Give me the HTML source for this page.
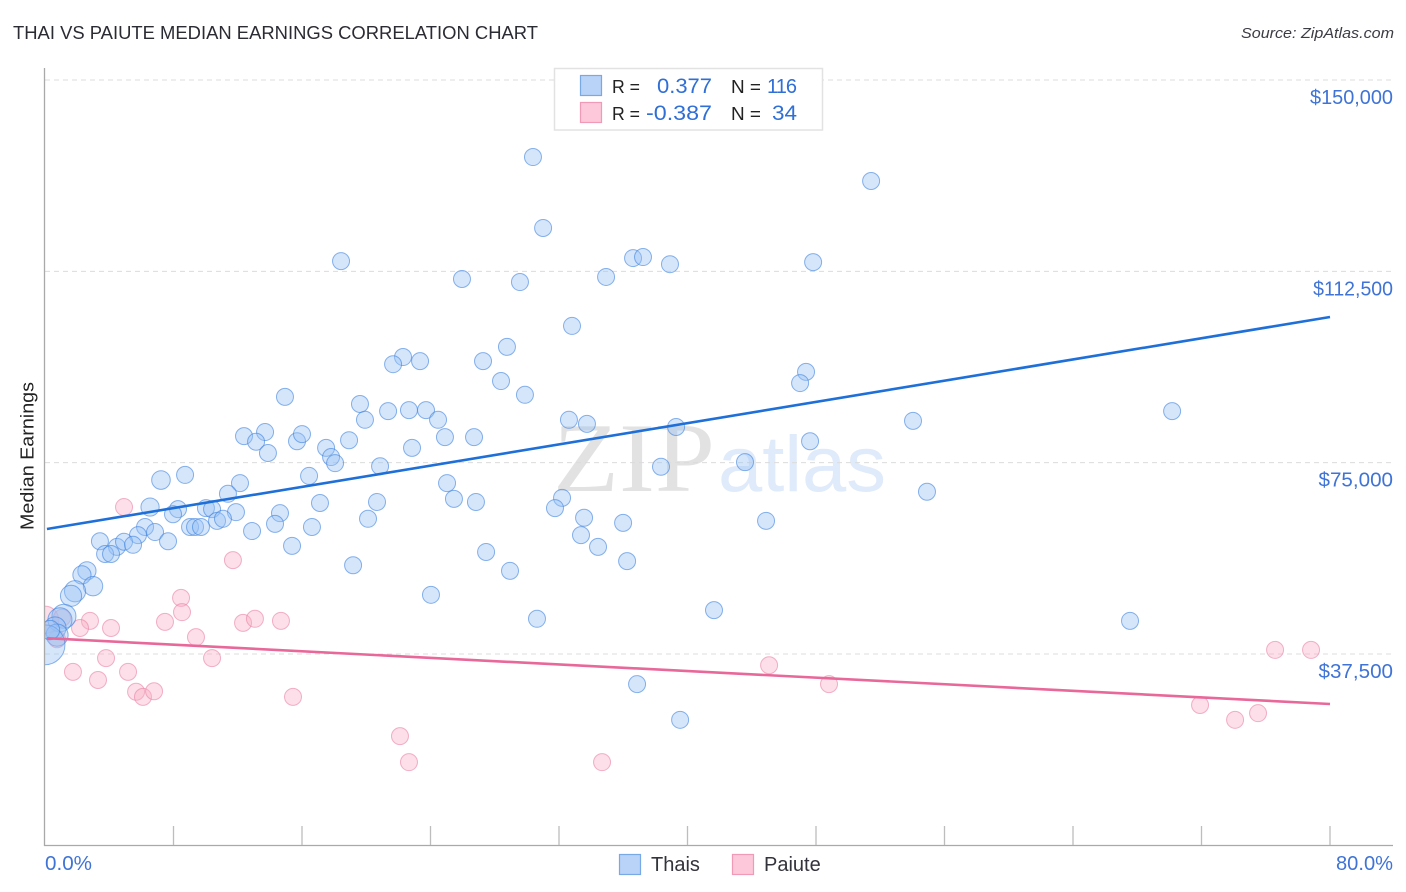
<!DOCTYPE html>
<html lang="en">
<head>
<meta charset="utf-8">
<title>Thai vs Paiute Median Earnings Correlation Chart</title>
<style>
html,body{margin:0;padding:0;background:#fff;width:1406px;height:892px;overflow:hidden}
svg{display:block;font-family:"Liberation Sans",sans-serif}
</style>
</head>
<body>
<svg id="chart" width="1406" height="892" viewBox="0 0 1406 892" xmlns="http://www.w3.org/2000/svg">
  <rect x="0" y="0" width="1406" height="892" fill="#fff"/>
  <text x="13" y="39" font-size="18.5" fill="#2b2b33" textLength="525" lengthAdjust="spacingAndGlyphs">THAI VS PAIUTE MEDIAN EARNINGS CORRELATION CHART</text>
  <text x="1394" y="38" font-size="15" font-style="italic" fill="#3c3c44" text-anchor="end" textLength="153" lengthAdjust="spacingAndGlyphs">Source: ZipAtlas.com</text>
  <text x="553" y="491" font-family="'Liberation Serif',serif" font-size="99" fill="#e2e2e2" textLength="162" lengthAdjust="spacingAndGlyphs">ZIP</text>
  <text x="718" y="491" font-size="79" fill="#dfeafa" textLength="168" lengthAdjust="spacingAndGlyphs">atlas</text>
  <g id="grid"></g>
  <g id="series"></g>
  <g id="trends"></g>
  <g id="axes"></g>
  <text transform="translate(33.5,456) rotate(-90)" font-size="18" fill="#222" text-anchor="middle" textLength="148" lengthAdjust="spacingAndGlyphs">Median Earnings</text>

  <g>
    <rect x="554.5" y="68.5" width="268" height="61.5" fill="#fff" stroke="#e2e2e2" stroke-width="1.5"/>
    <rect x="580.5" y="75.5" width="21" height="20" fill="#b8d3f7" stroke="#79a8e6" stroke-width="1.2"/>
    <rect x="580.5" y="102.5" width="21" height="20" fill="#fcc8da" stroke="#f09ab8" stroke-width="1.2"/>
    <text x="612" y="93" font-size="18.5" fill="#222" textLength="28" lengthAdjust="spacingAndGlyphs">R =</text>
    <text x="612" y="120" font-size="18.5" fill="#222" textLength="28" lengthAdjust="spacingAndGlyphs">R =</text>
    <text x="712" y="93" font-size="21" fill="#2f6fd6" text-anchor="end" textLength="55" lengthAdjust="spacingAndGlyphs">0.377</text>
    <text x="712" y="120" font-size="21" fill="#2f6fd6" text-anchor="end" textLength="66" lengthAdjust="spacingAndGlyphs">-0.387</text>
    <text x="731" y="93" font-size="18.5" fill="#222" textLength="30" lengthAdjust="spacingAndGlyphs">N =</text>
    <text x="731" y="120" font-size="18.5" fill="#222" textLength="30" lengthAdjust="spacingAndGlyphs">N =</text>
    <text x="797" y="93" font-size="20" fill="#2f6fd6" text-anchor="end" textLength="30" lengthAdjust="spacing">116</text>
    <text x="797" y="120" font-size="21" fill="#2f6fd6" text-anchor="end" textLength="25" lengthAdjust="spacingAndGlyphs">34</text>
  </g>

  <g>
    <rect x="619.5" y="854.5" width="21" height="20" fill="#b8d3f7" stroke="#79a8e6" stroke-width="1.2"/>
    <text x="651" y="871" font-size="20" fill="#33333b">Thais</text>
    <rect x="732.5" y="854.5" width="21" height="20" fill="#fcc8da" stroke="#f09ab8" stroke-width="1.2"/>
    <text x="764" y="871" font-size="20" fill="#33333b">Paiute</text>
  </g>
</svg>
<script>
var thaiShare = [30.38,31.01,51.43,18.43,25.96,29.57,34.93,36.61,37.23,38.91,47.82,32.81,28.76,22.29,21.67,23.35,27.27,28.39,29.88,47.38,47.01,14.94,19.61,21.36,22.66,23.72,19.92,24.47,32.62,33.74,39.29,54.04,70.17,12.39,13.70,13.14,13.88,15.69,16.00,17.50,18.93,17.81,18.06,24.90,26.71,22.85,47.63,20.86,38.35,43.58,7.22,8.72,12.14,16.44,11.39,17.12,20.67,25.03,25.46,26.83,32.19,31.75,54.91,6.54,8.28,7.97,10.02,10.40,11.89,14.63,6.23,6.85,9.03,9.34,9.71,10.71,11.08,12.89,14.32,16.62,20.11,33.56,35.99,44.89,33.37,5.79,7.66,3.42,4.48,4.92,5.48,3.74,4.11,15.38,27.46,34.43,36.24,19.18,28.95,2.61,2.30,2.99,1.87,1.62,24.03,41.65,30.63,67.55,1.18,0.93,0.62,0.75,0.00,36.86,39.54,0.31];
var thaiEarnings = [134900,121000,130200,114500,111000,110400,111400,115100,115300,113900,114300,101800,97700,95700,94300,94900,94900,91000,88300,92800,90600,87900,86500,85100,85300,85300,83400,83400,83400,82600,82000,83200,85100,80200,81000,79100,76900,79200,80600,77900,79400,76100,74900,80000,80000,77900,79200,74300,74200,75100,71600,72600,71000,72400,68900,67100,67300,71000,67900,67300,68100,66100,69300,66300,65900,64900,66100,65900,65300,65100,62400,61400,62400,62400,62400,63600,64000,61600,63000,62400,64000,64200,63200,63600,60800,60800,59600,59600,58500,59500,58900,57100,57100,58700,57500,58500,55700,54900,53800,53800,53000,50800,49800,48900,49100,46100,44400,44000,44900,44200,42600,41200,39300,31600,24600,42200];
var thaiWeight = [1,1,1,1,1,1,1,1,1,1,1,1,1,1,1,1,1,1,1,1,1,1,1,1,1,1,1,1,1,1,1,1,1,1,1,1,1,1,1,1,1,1,1,1,1,1,1,1,1,1,1.2,1,1,1,1,1,1,1,1,1,1,1,1,1.15,1,1,1,1,1,1,1,1,1,1,1,1,1,1,1,1,1,1,1,1,1,1,1,1,1,1,1,1,1,1,1,1,1,1,1,1.15,1.15,1.3,1.55,1.55,1,1,1,1,2,2,1.7,1.7,5.5,1,1,1.3];
var paiuteShare = [4.92,11.70,8.47,8.53,2.80,7.47,4.11,12.33,13.07,14.69,9.40,2.18,0.00,1.06,0.75,3.80,10.40,1.74,5.17,3.30,5.67,6.10,6.79,15.44,45.08,48.81,76.58,78.82,71.91,74.09,75.52,22.10,22.66,34.68];
var paiuteEarnings = [66300,55900,48500,45700,44000,43800,42600,43600,44400,44000,40800,42600,44200,44600,40400,36700,36700,34000,34000,32400,30100,29100,30200,29100,35300,31600,38300,38300,27500,24600,25900,21400,16300,16300];
var paiuteWeight = [1,1,1,1,1,1,1,1,1,1,1,1,2.6,1,1,1,1,1,1,1,1,1,1,1,1,1,1,1,1,1,1,1,1,1];
var trendShare = [0.12, 80];
var thaiTrend = [62000, 103550];
var paiuteTrend = [40600, 27700];
var yTickValues = [37500, 75000, 112500, 150000];
var yTickLabels = ["$37,500", "$75,000", "$112,500", "$150,000"];
var xTickValues = [0, 8, 16, 24, 32, 40, 48, 56, 64, 72, 80];
var xEndLabels = ["0.0%", "80.0%"];

var NS = 'http://www.w3.org/2000/svg';
function xScale(v) { return 45 + v * (1330 - 45) / 80; }
function yScale(v) { return 654 - (v - 37500) * (654 - 80) / 112500; }
function rScale(w) { return 8.5 * Math.sqrt(w); }
function labelWidth(s) {
  var w = 0;
  for (var i = 0; i < s.length; i++) {
    var ch = s.charAt(i);
    w += ch === '$' ? 11 : ch === ',' ? 5.5 : ch === '1' ? 8.5 : 11.6;
  }
  return w;
}
function make(parent, tag, attrs, text) {
  var el = document.createElementNS(NS, tag);
  for (var k in attrs) el.setAttribute(k, attrs[k]);
  if (text !== undefined) el.textContent = text;
  parent.appendChild(el);
  return el;
}
var grid = document.getElementById('grid');
var axes = document.getElementById('axes');
var series = document.getElementById('series');
var trends = document.getElementById('trends');

yTickValues.forEach(function (v, i) {
  var line = make(grid, 'line', {x1: 45, x2: 1393, y1: yScale(v), y2: yScale(v), stroke: '#dcdcdc', 'stroke-width': 1, 'stroke-dasharray': '5 4'});
  
  
  var label = make(axes, 'text', {x: 1393, y: yScale(v) + 24, 'font-size': 20, fill: '#3f74d6', 'text-anchor': 'end', textLength: labelWidth(yTickLabels[i]), lengthAdjust: 'spacingAndGlyphs'}, yTickLabels[i]);
  
  
});

var yAxis = make(axes, 'line', {x1: 44.5, x2: 44.5, y1: 68, y2: 846, stroke: '#a9a9a9', 'stroke-width': 1.3});


var xAxis = make(axes, 'line', {x1: 44, x2: 1393, y1: 845.5, y2: 845.5, stroke: '#a9a9a9', 'stroke-width': 1.3});


xTickValues.slice(1).forEach(function (v) {
  var tick = make(axes, 'line', {x1: xScale(v), x2: xScale(v), y1: 826, y2: 845, stroke: '#bdbdbd', 'stroke-width': 1.3});
  
  
});
var xStart = make(axes, 'text', {x: 45, y: 870, 'font-size': 20, fill: '#3f74d6', textLength: 47, lengthAdjust: 'spacingAndGlyphs'}, xEndLabels[0]);


var xEnd = make(axes, 'text', {x: 1393, y: 870, 'font-size': 20, fill: '#3f74d6', 'text-anchor': 'end', textLength: 57, lengthAdjust: 'spacingAndGlyphs'}, xEndLabels[1]);



var clip = make(series, 'clipPath', {id: 'plot-clip'});
make(clip, 'rect', {x: 45, y: 60, width: 1350, height: 786});

var paiuteGroup = make(series, 'g', {'clip-path': 'url(#plot-clip)'});


paiuteShare.forEach(function (v, i) {
  var c = make(paiuteGroup, 'circle', {cx: xScale(v), cy: yScale(paiuteEarnings[i]), r: rScale(paiuteWeight[i]), fill: 'rgba(248,175,198,0.4)', stroke: 'rgba(232,125,162,0.58)', 'stroke-width': 1});
  
  
});
var thaiGroup = make(series, 'g', {'clip-path': 'url(#plot-clip)'});


thaiShare.forEach(function (v, i) {
  var c = make(thaiGroup, 'circle', {cx: xScale(v), cy: yScale(thaiEarnings[i]), r: rScale(thaiWeight[i]), fill: 'rgba(150,192,245,0.4)', stroke: 'rgba(55,125,220,0.58)', 'stroke-width': 1});
  
  
});

var thaiLine = make(trends, 'line', {x1: xScale(trendShare[0]), x2: xScale(trendShare[1]), y1: yScale(thaiTrend[0]), y2: yScale(thaiTrend[1]), stroke: '#1f6fd8', 'stroke-width': 2.6});


var paiuteLine = make(trends, 'line', {x1: xScale(trendShare[0]), x2: xScale(trendShare[1]), y1: yScale(paiuteTrend[0]), y2: yScale(paiuteTrend[1]), stroke: '#e8689a', 'stroke-width': 2.6});


</script>
</body>
</html>
